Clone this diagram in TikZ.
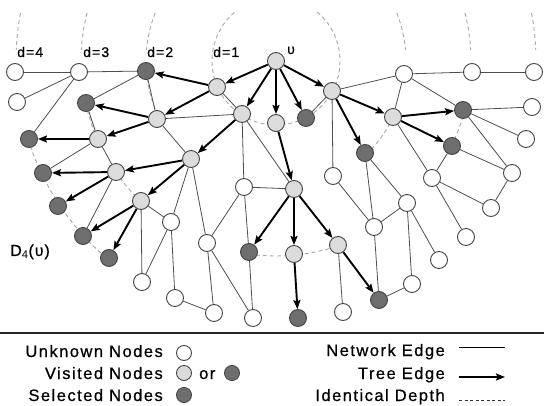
\documentclass[tikz,border=0pt]{standalone}
\usepackage{fontspec}
\setmainfont{Liberation Sans}
\usetikzlibrary{arrows.meta,backgrounds}
\definecolor{lightfill}{HTML}{DCDCDC}
\definecolor{darkfill}{HTML}{6E6E6E}
\definecolor{nodeborder}{HTML}{444444}
\definecolor{edgegray}{HTML}{4E4E4E}
\definecolor{depthgray}{HTML}{A8A8A8}
\newcommand\deptharc[3]{\draw[depth] ([shift={(#1:#3)}]ctr) arc[start angle=#1, end angle=#2, radius=#3];}
\begin{document}
\begin{tikzpicture}[x=1pt,y=-1pt,
  base/.style={circle,draw=nodeborder,line width=0.9pt,minimum size=17pt,inner sep=0pt},
  wn/.style={base,fill=white},
  ln/.style={base,fill=lightfill},
  dn/.style={base,fill=darkfill},
  lgn/.style={minimum size=15pt},
  net/.style={draw=edgegray,line width=0.8pt},
  tree/.style={draw=black,line width=1.9pt,-{Stealth[length=9pt,width=7pt,inset=1.5pt]}},
  depth/.style={draw=depthgray,line width=0.9pt,dash pattern=on 4pt off 3pt},
  lbl/.style={font=\fontsize{14}{16}\selectfont\addfontfeatures{LetterSpace=8,FakeBold=0.6},inner sep=0pt,anchor=base west},
  legfont/.style={font=\fontsize{16.5}{19}\selectfont\addfontfeatures{LetterSpace=9,FakeBold=0.6},inner sep=0pt},
  leg/.style={legfont,anchor=base east},
]
\useasboundingbox (0,0) rectangle (544,406);
\coordinate (ctr) at (276,61);
% nodes
\node[wn] (A) at (15,72) {};
\node[wn] (B) at (79,72) {};
\node[dn] (C) at (146,71) {};
\node[ln] (U) at (276,61) {};
\node[wn] (D) at (404,74) {};
\node[wn] (E) at (472,72) {};
\node[wn] (F) at (534,72) {};
\node[wn] (G) at (17,102) {};
\node[dn] (H) at (86,103) {};
\node[ln] (I) at (217,87) {};
\node[ln] (J) at (157,119) {};
\node[ln] (K) at (242,114) {};
\node[ln] (L) at (276,123) {};
\node[dn] (M) at (306,118) {};
\node[ln] (N) at (332,91) {};
\node[ln] (O) at (393,117) {};
\node[dn] (P) at (463,110) {};
\node[wn] (Q) at (532,107) {};
\node[dn] (R) at (29,139) {};
\node[ln] (S) at (98,139) {};
\node[ln] (T) at (191,159) {};
\node[dn] (V) at (365,153) {};
\node[dn] (W) at (452,146) {};
\node[wn] (X) at (526,139) {};
\node[dn] (Y) at (43,173) {};
\node[ln] (Z) at (116,172) {};
\node[wn] (AA) at (244,187) {};
\node[ln] (AB) at (294,189) {};
\node[wn] (AC) at (333,176) {};
\node[wn] (AD) at (432,178) {};
\node[wn] (AE) at (512,173) {};
\node[dn] (AF) at (58,206) {};
\node[ln] (AG) at (141,201) {};
\node[wn] (AH) at (171,222) {};
\node[wn] (AI) at (407,203) {};
\node[wn] (AJ) at (491,208) {};
\node[dn] (AK) at (83,236) {};
\node[wn] (AL) at (207,243) {};
\node[dn] (AM) at (249,252) {};
\node[ln] (AN) at (294,254) {};
\node[ln] (AO) at (338,245) {};
\node[wn] (AP) at (374,227) {};
\node[wn] (AQ) at (466,237) {};
\node[dn] (AR) at (109,258) {};
\node[wn] (AS) at (439,260) {};
\node[wn] (AT) at (142,282) {};
\node[wn] (AU) at (412,284) {};
\node[wn] (AV) at (175,298) {};
\node[dn] (AW) at (379,300) {};
\node[wn] (AX) at (214,313) {};
\node[wn] (AY) at (253,318) {};
\node[dn] (AZ) at (298,318) {};
\node[wn] (BA) at (343,312) {};
% labels
\node[lbl] (l4) at (17,57) {d=4};
\node[lbl] (l3) at (83,57) {d=3};
\node[lbl] (l2) at (147,57) {d=2};
\node[lbl] (l1) at (213,57) {d=1};
\node[lbl] (lu) at (287,54) {υ};
\node[font=\fontsize{16}{18}\selectfont\addfontfeatures{LetterSpace=6,FakeBold=0.6},inner sep=0pt,anchor=base west] (ld) at (10,256) {D$_{\mathrm{4}}$(υ)};
\begin{scope}[on background layer]
% depth arcs
\deptharc{-50}{230}{64}
\deptharc{201.7}{184.9}{130}
\deptharc{-21.7}{-4.9}{130}
\deptharc{175.6}{154}{130}
\deptharc{25.6}{46}{130}
\deptharc{194.3}{183.2}{195}
\deptharc{-14.3}{-3.2}{195}
\deptharc{167.5}{156.3}{195}
\deptharc{145.3}{134}{195}
\deptharc{98}{71.4}{195}
\deptharc{25.8}{14.7}{195}
\deptharc{190.6}{182.4}{260}
\deptharc{-10.6}{-2.4}{260}
\deptharc{162.5}{130.3}{260}
% network edges
\foreach \a/\b in {A/B,B/C,B/G,B/R,C/H,C/J,H/S,S/Z,S/Y,J/T,J/K,I/K,K/AA,K/AB,T/AH,T/AL,Z/AK,
  AG/AT,AG/AH,AH/AT,AH/AV,AV/AX,AL/AX,AL/AY,AL/AA,AA/AB,AA/AM,AM/AY,AO/BA,AP/AW,AC/AP,N/AC,
  V/AP,V/AI,AI/AP,AI/AU,AI/AS,AU/AW,AD/AJ,AD/AQ,W/AD,W/AE,AE/AJ,P/Q,P/X,P/AE,N/D,D/E,E/F,D/O,D/P,O/AD,N/M}
  \draw[net] (\a) -- (\b);
% tree edges
\foreach \a/\b in {U/I,U/K,U/L,U/M,U/N,I/C,I/J,J/H,J/S,K/T,S/R,T/Z,T/AG,Z/Y,Z/AF,AG/AK,AG/AR,
  L/AB,AB/AM,AB/AN,AB/AO,AN/AZ,AO/AW,N/O,N/V,O/P,O/W}
  \draw[tree] (\a) -- (\b);
\end{scope}
% legend
\draw[line width=1.4pt,black!85] (0,333) -- (544,333);
\node[leg] (t1) at (163,357) {Unknown Nodes};
\node[leg] (t2) at (163,379) {Visited Nodes};
\node[leg] (t3) at (163,401) {Selected Nodes};
\node[wn,lgn] (c1) at (184,353) {};
\node[ln,lgn] (c2) at (184,373) {};
\node[legfont,anchor=base west] (tor) at (199,379) {or};
\node[dn,lgn] (c3) at (232,373) {};
\node[dn,lgn] (c4) at (184,395) {};
\node[leg] (t4) at (445,356) {Network Edge};
\node[leg] (t5) at (445,379) {Tree Edge};
\node[leg] (t6) at (445,401) {Identical Depth};
\coordinate (s1a) at (459,348); \coordinate (s1b) at (505,348);
\coordinate (s2a) at (459,377); \coordinate (s2b) at (505,377);
\coordinate (s3a) at (459,400); \coordinate (s3b) at (505,400);
\draw[line width=1pt,black] (s1a) -- (s1b);
\draw[tree] (s2a) -- (s2b);
\draw[line width=1pt,black!80,dash pattern=on 3pt off 2.5pt] (s3a) -- (s3b);
\end{tikzpicture}
\end{document}
